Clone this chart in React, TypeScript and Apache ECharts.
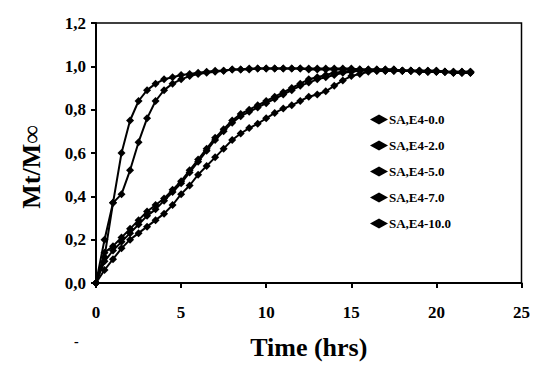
import React, { useEffect, useRef } from "react";
import * as echarts from "echarts";

const time = [0, 0.5, 1, 1.5, 2, 2.5, 3, 3.5, 4, 4.5, 5, 5.5, 6, 6.5, 7, 7.5, 8, 8.5, 9, 9.5, 10, 10.5, 11, 11.5, 12, 12.5, 13, 13.5, 14, 14.5, 15, 15.5, 16, 16.5, 17, 17.5, 18, 18.5, 19, 19.5, 20, 20.5, 21, 21.5, 22];

const seriesNames = ["SA,E4-0.0", "SA,E4-2.0", "SA,E4-5.0", "SA,E4-7.0", "SA,E4-10.0"];

const e0 = [0, 0.2, 0.37, 0.6, 0.75, 0.84, 0.89, 0.92, 0.94, 0.95, 0.96, 0.965, 0.97, 0.975, 0.98, 0.98, 0.985, 0.985, 0.99, 0.99, 0.99, 0.99, 0.99, 0.99, 0.99, 0.99, 0.99, 0.99, 0.99, 0.99, 0.99, 0.985, 0.985, 0.985, 0.985, 0.985, 0.98, 0.98, 0.98, 0.98, 0.98, 0.975, 0.975, 0.975, 0.975];
const e2 = [0, 0.12, 0.37, 0.41, 0.52, 0.65, 0.76, 0.84, 0.89, 0.92, 0.94, 0.955, 0.965, 0.97, 0.975, 0.98, 0.985, 0.985, 0.985, 0.99, 0.99, 0.99, 0.99, 0.99, 0.99, 0.985, 0.985, 0.985, 0.985, 0.985, 0.985, 0.985, 0.98, 0.98, 0.98, 0.98, 0.98, 0.98, 0.975, 0.975, 0.975, 0.975, 0.97, 0.97, 0.97];
const e5 = [0, 0.14, 0.17, 0.21, 0.25, 0.29, 0.33, 0.36, 0.39, 0.43, 0.47, 0.52, 0.57, 0.62, 0.67, 0.71, 0.75, 0.78, 0.8, 0.82, 0.84, 0.86, 0.88, 0.9, 0.92, 0.94, 0.95, 0.96, 0.97, 0.975, 0.98, 0.985, 0.985, 0.985, 0.985, 0.985, 0.98, 0.98, 0.98, 0.98, 0.98, 0.975, 0.975, 0.975, 0.975];
const e7 = [0, 0.1, 0.15, 0.19, 0.23, 0.27, 0.31, 0.34, 0.38, 0.42, 0.46, 0.51, 0.56, 0.61, 0.66, 0.7, 0.74, 0.77, 0.79, 0.81, 0.83, 0.85, 0.87, 0.89, 0.91, 0.925, 0.94, 0.95, 0.96, 0.97, 0.975, 0.98, 0.98, 0.98, 0.98, 0.98, 0.98, 0.98, 0.975, 0.975, 0.975, 0.975, 0.97, 0.97, 0.97];
const e10 = [0, 0.06, 0.11, 0.16, 0.2, 0.23, 0.26, 0.29, 0.32, 0.36, 0.41, 0.45, 0.5, 0.54, 0.58, 0.62, 0.66, 0.69, 0.715, 0.735, 0.76, 0.785, 0.805, 0.82, 0.84, 0.86, 0.87, 0.885, 0.91, 0.935, 0.955, 0.965, 0.975, 0.98, 0.98, 0.98, 0.98, 0.98, 0.98, 0.975, 0.975, 0.975, 0.97, 0.97, 0.97];

const allValues = [e0, e2, e5, e7, e10];
const xTicks = [0, 5, 10, 15, 20, 25];

const FONT = "'Liberation Serif', 'Times New Roman', serif";

export default function App() {
  const ref = useRef<HTMLDivElement>(null);
  useEffect(() => {
    document.body.style.margin = "0";
    if (!ref.current) return;
    const chart = echarts.init(ref.current, null, { renderer: "svg" });
    const series = seriesNames.map((name, i) => ({
      name,
      type: "line",
      data: time.map((t, j) => [t, allValues[i][j]]),
      symbol: "diamond",
      symbolSize: 8,
      showSymbol: true,
      lineStyle: { color: "#000", width: 2 },
      itemStyle: { color: "#000" },
      z: 3,
    }));
    chart.setOption({
      animation: false,
      backgroundColor: "#fff",
      grid: {
        left: 96,
        right: 10,
        top: 23,
        bottom: 83,
        show: true,
        borderColor: "#000",
        borderWidth: 1.5,
        backgroundColor: "transparent",
      },
      legend: {
        orient: "vertical",
        left: 365,
        top: 108,
        itemWidth: 18,
        itemHeight: 10,
        itemGap: 13,
        data: seriesNames.map((n) => ({ name: n, icon: "path://M0,5L9,0L18,5L9,10Z" })),
        textStyle: {
          fontFamily: FONT,
          fontWeight: "bold",
          fontSize: 13,
          color: "#000",
          lineHeight: 12,
          padding: [0, 0, 0, -4],
        },
      },
      xAxis: {
        type: "value",
        min: 0,
        max: 25,
        interval: 5,
        name: "Time (hrs)",
        nameLocation: "middle",
        nameGap: 51,
        nameTextStyle: { fontFamily: FONT, fontWeight: "bold", fontSize: 26, color: "#000" },
        axisLine: { lineStyle: { color: "#000", width: 2 } },
        axisTick: { show: true, length: 5, lineStyle: { color: "#000", width: 2 } },
        axisLabel: {
          margin: 21,
          fontFamily: FONT,
          fontWeight: "bold",
          fontSize: 17,
          color: "#000",
          customValues: xTicks,
        },
        splitLine: { show: false },
      },
      yAxis: {
        type: "value",
        min: 0,
        max: 1.2,
        interval: 0.2,
        axisLine: { show: true, lineStyle: { color: "#000", width: 2 } },
        axisTick: { show: true, length: 5, lineStyle: { color: "#000", width: 2 } },
        axisLabel: {
          margin: 10,
          fontFamily: FONT,
          fontWeight: "bold",
          fontSize: 17,
          color: "#000",
          formatter: (v: number) => v.toFixed(1).replace(".", ","),
        },
        splitLine: { show: false },
      },
      graphic: [
        {
          type: "text",
          x: 31,
          y: 167,
          rotation: Math.PI / 2,
          style: {
            text: "Mt/M∞",
            fill: "#000",
            font: `bold 26px ${FONT}`,
            align: "center",
            verticalAlign: "middle",
          },
        },
        {
          type: "text",
          left: 74,
          top: 334,
          style: { text: "-", fill: "#000", font: `bold 14px ${FONT}` },
        },
      ],
      series,
    });
    return () => chart.dispose();
  }, []);
  return <div ref={ref} style={{ width: 533, height: 366 }} />;
}
